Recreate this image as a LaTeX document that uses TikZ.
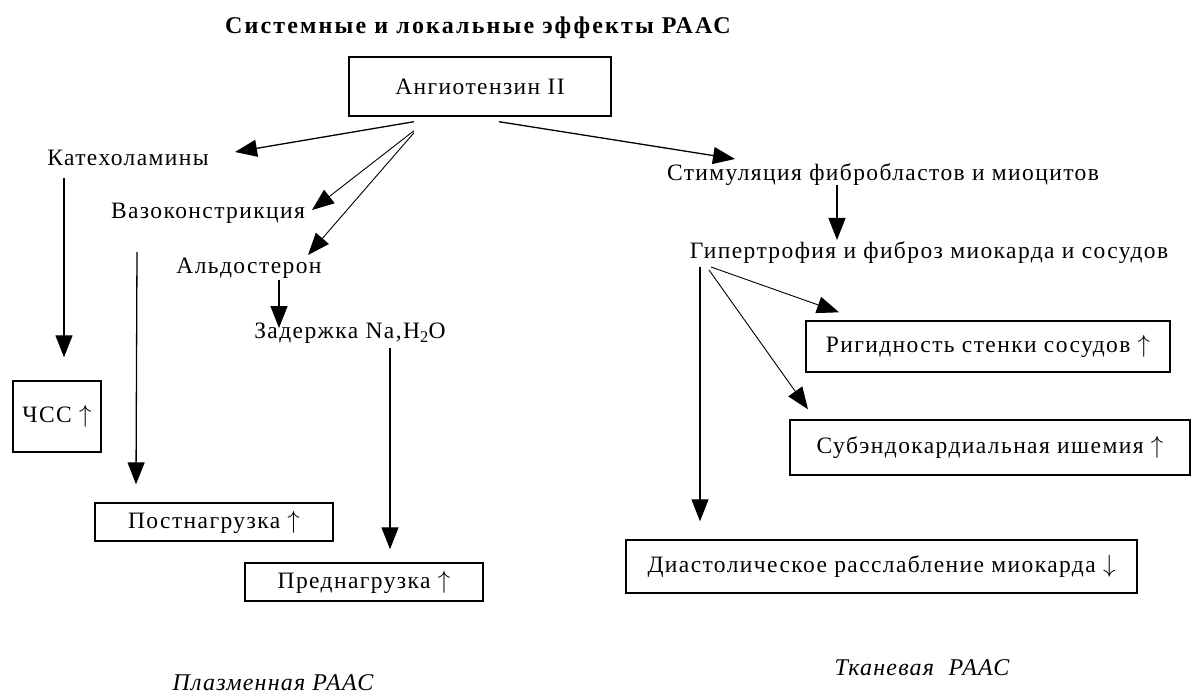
\documentclass[tikz,border=0pt]{standalone}
\usepackage{fontspec}
\setmainfont{Liberation Serif}
\usetikzlibrary{arrows.meta}
\newcommand{\myup}{$\uparrow$}
\newcommand{\mydown}{$\downarrow$}
\begin{document}
\begin{tikzpicture}[x=1pt,y=-1pt,
  txt/.style={inner sep=0pt, font=\fontsize{23.5}{26}\selectfont\addfontfeatures{LetterSpace=6}},
  boxn/.style={draw, line width=1.4pt, inner sep=0pt, font=\fontsize{23.5}{26}\selectfont\addfontfeatures{LetterSpace=6}},
  lbl/.style={inner sep=0pt, font=\fontsize{24}{26}\selectfont\itshape\addfontfeatures{LetterSpace=5}},
  arr/.style={line width=1.3pt, -{Triangle[length=22pt,width=17pt]}},
  thin/.style={line width=0.9pt, -{Triangle[length=22pt,width=17pt]}}
]
\useasboundingbox (0,0) rectangle (1192,695);

% title
\node[inner sep=0pt, font=\fontsize{24}{26}\selectfont\bfseries\addfontfeatures{LetterSpace=9}] (title) at (478,28) {Системные и локальные эффекты РААС};

% boxes
\node[boxn, minimum width=262pt, minimum height=59pt] (angio) at (480,86.5) {Ангиотензин II};
\node[boxn, minimum width=88pt, minimum height=71pt] (chss) at (57,416.5) {ЧСС \myup};
\node[boxn, minimum width=238pt, minimum height=38pt] (post) at (214,522) {Постнагрузка \myup};
\node[boxn, minimum width=238pt, minimum height=38pt] (pred) at (364,582) {Преднагрузка \myup};
\node[boxn, minimum width=364pt, minimum height=51pt] (rigid) at (988,346.5) {Ригидность стенки сосудов \myup};
\node[boxn, minimum width=400pt, minimum height=55pt] (sub) at (990,447.5) {Субэндокардиальная ишемия \myup};
\node[boxn, minimum width=511pt, minimum height=53pt] (diast) at (881.5,566.5) {Диастолическое расслабление миокарда \mydown};

% plain texts
\node[txt] (kat) at (128,158) {Катехоламины};
\node[txt] (vazo) at (208,213) {Вазоконстрикция};
\node[txt] (aldo) at (249,268) {Альдостерон};
\node[txt] (zad) at (350,333) {Задержка Na,H\textsubscript{2}O};
\node[txt] (stim) at (883,175) {Стимуляция фибробластов и миоцитов};
\node[txt] (hyper) at (929,253) {Гипертрофия и фиброз миокарда и сосудов};

% bottom labels
\node[lbl] (plasma) at (273,683) {Плазменная РААС};
\node[lbl] (tissue) at (922,668) {Тканевая \ РААС};

% connectors from Angiotensin II
\draw[arr] ([shift={(-66pt,-5pt)}]angio.south) -- ([shift={(107pt,6pt)}]kat.center);
\draw[thin] ([shift={(-66pt,-14pt)}]angio.south) -- ([shift={(104pt,3pt)}]vazo.center);
\draw[thin] ([shift={(-66pt,-16pt)}]angio.south) -- ([shift={(59pt,13pt)}]aldo.center);
\draw[arr] ([shift={(19pt,-5pt)}]angio.south) -- ([shift={(-148pt,16pt)}]stim.center);

% plasma branch
\draw[arr] ([shift={(-64pt,-20pt)}]kat.center) -- ([shift={(7pt,23pt)}]chss.north);
\draw[arr] ([shift={(-71pt,-39pt)}]vazo.center) -- ([shift={(-78pt,18pt)}]post.north);
\draw[arr] ([shift={(30pt,-12pt)}]aldo.center) -- ([shift={(-71pt,5pt)}]zad.center);
\draw[arr] ([shift={(40pt,-15pt)}]zad.center) -- ([shift={(26pt,13pt)}]pred.north);

% tissue branch
\draw[arr] ([shift={(-46pt,-10pt)}]stim.center) -- ([shift={(-92pt,13pt)}]hyper.center);
\draw[arr] ([shift={(-229pt,-14pt)}]hyper.center) -- ([shift={(-181.5pt,18pt)}]diast.north);
\draw[thin] ([shift={(-218pt,-14pt)}]hyper.center) -- ([shift={(-149pt,8pt)}]rigid.north);
\draw[thin] ([shift={(-220pt,-17pt)}]hyper.center) -- ([shift={(-182pt,10pt)}]sub.north);
\end{tikzpicture}
\end{document}
